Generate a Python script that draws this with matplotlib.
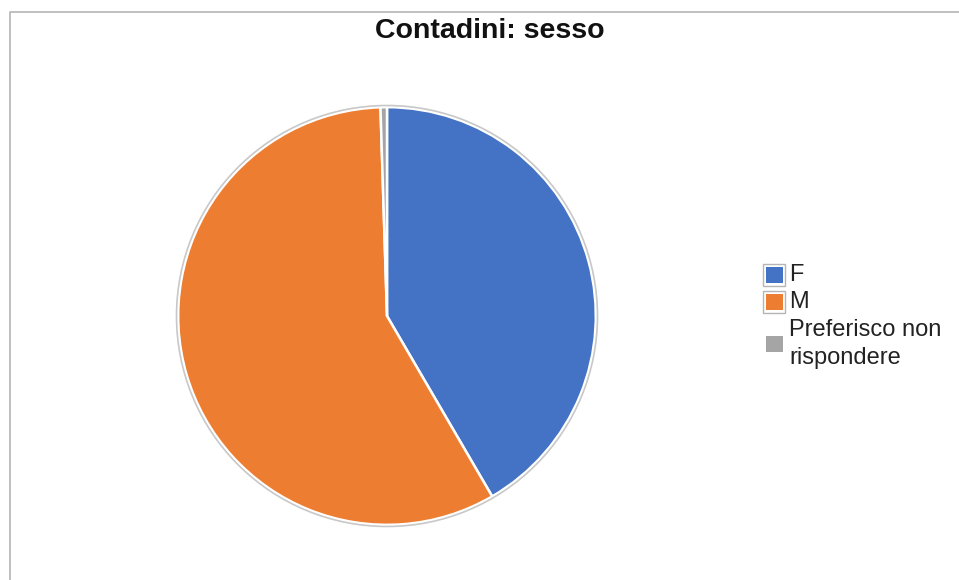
import matplotlib
matplotlib.use("Agg")
import matplotlib.pyplot as plt
from matplotlib.patches import Circle, Rectangle
from matplotlib.lines import Line2D

W, H = 959, 580

TITLE = "Contadini: sesso"
labels = ["F", "M", "Preferisco non\nrispondere"]
values = [41.6, 57.9, 0.5]
colors = ["#4472C4", "#ED7D31", "#A5A5A5"]

plt.rcParams["font.family"] = ["Liberation Sans", "DejaVu Sans"]

fig = plt.figure(figsize=(W / 100, H / 100), dpi=100, facecolor="white")


def fx(px):
    return px / W


def fy(py):
    return 1 - py / H


# outer frame (only left and top visible)
fig.add_artist(Line2D([fx(10), fx(10), fx(W + 5)], [fy(H + 5), fy(12), fy(12)],
                      color="#b5b5b5", lw=1.2))

fig.text(fx(490), fy(31), TITLE, ha="center", va="center",
         fontsize=20.5, fontweight="bold", color="#111111")

# pie
cx, cy, r = 387, 316, 213
ax = fig.add_axes([fx(cx - r), fy(cy + r), 2 * r / W, 2 * r / H])
ax.pie(values, colors=colors, startangle=90, counterclock=False, radius=1.0,
       wedgeprops=dict(edgecolor="white", linewidth=1.8))
ax.add_patch(Circle((0, 0), 1.008, fill=False, edgecolor="#c8c8c8", lw=1.2))
ax.set_xlim(-1.02, 1.02)
ax.set_ylim(-1.02, 1.02)
ax.set_aspect("equal")
ax.axis("off")

# legend
rows = [(275, True), (302, True), (344, False)]
for (ly, boxed), lab, col in zip(rows, labels, colors):
    if boxed:
        fig.add_artist(Rectangle((fx(763), fy(ly + 11)), 22 / W, 22 / H,
                                 facecolor="white", edgecolor="#b5b5b5", lw=1.0))
    fig.add_artist(Rectangle((fx(766), fy(ly + 8)), 17 / W, 16 / H,
                             facecolor=col, edgecolor="none"))
    fig.text(fx(789), fy(ly), lab, ha="left", va="center", fontsize=17,
             color="#222222", linespacing=1.38)

fig.savefig("out.png", dpi=100, facecolor="white")
